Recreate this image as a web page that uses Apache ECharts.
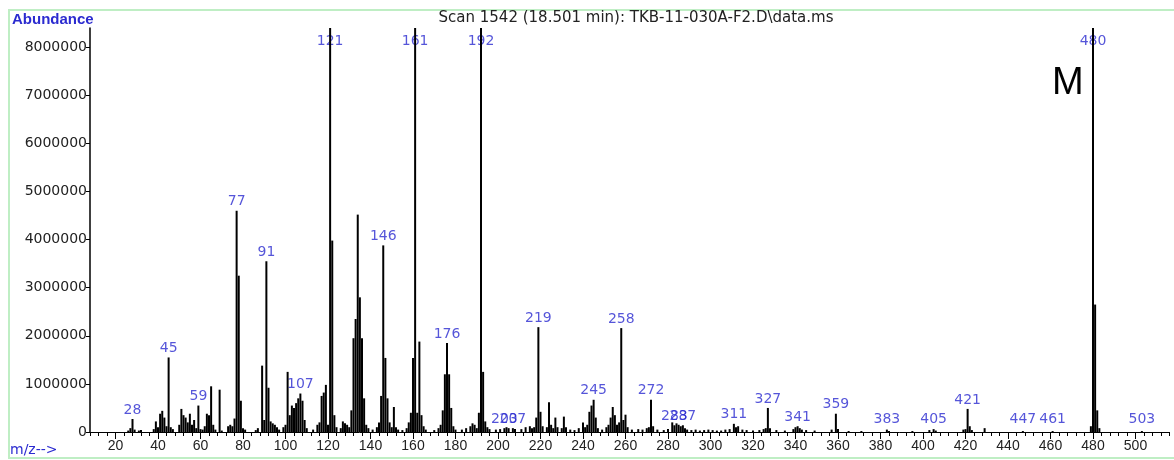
<!DOCTYPE html>
<html>
<head>
<meta charset="utf-8">
<script src="https://cdn.jsdelivr.net/npm/echarts@6/dist/echarts.min.js"></script>
<style>
html,body{margin:0;padding:0;background:#fff;}
#chart{width:1174px;height:460px;}
</style>
</head>
<body>
<div id="chart"></div>
<script>
// m/z values and their abundances (peaks reaching the top of the frame are clipped)
const mz = [26,27,28,29,31,32,38,39,40,41,42,43,44,45,46,47,50,51,52,53,54,55,56,57,58,59,60,61,62,63,64,65,66,67,69,70,
  73,74,75,76,77,78,79,80,81,86,87,89,90,91,92,93,94,95,96,97,99,100,101,102,103,104,105,106,107,108,109,110,113,115,116,117,118,119,120,
  121,122,123,124,126,127,128,129,130,131,132,133,134,135,136,137,138,139,141,143,144,145,146,147,148,149,150,151,152,153,155,157,158,159,160,
  161,162,163,164,165,166,170,172,173,174,175,176,177,178,179,180,183,185,187,188,189,190,191,192,193,194,195,196,199,201,203,204,205,207,208,
  211,213,215,216,217,218,219,220,221,223,224,225,226,227,228,230,231,232,234,236,238,240,241,242,243,244,245,246,247,249,251,252,253,254,255,
  256,257,258,259,260,261,263,266,268,270,271,272,273,275,278,280,282,283,284,285,286,287,288,289,291,293,295,297,299,301,303,305,307,309,
  311,312,313,315,317,320,323,325,326,327,328,331,335,339,340,341,342,343,345,349,357,359,360,365,371,383,384,395,403,405,406,419,420,421,
  422,423,429,447,461,479,480,481,482,483,503];
const abundance = [30000,80000,270000,50000,30000,40000,60000,220000,100000,380000,440000,300000,120000,1550000,100000,60000,150000,480000,350000,300000,200000,380000,150000,250000,80000,550000,60000,50000,120000,380000,350000,950000,150000,50000,880000,30000,
  120000,150000,120000,280000,4600000,3250000,650000,80000,50000,40000,80000,1380000,250000,3550000,920000,220000,180000,150000,100000,50000,100000,150000,1250000,350000,550000,500000,600000,700000,800000,650000,250000,80000,50000,150000,200000,750000,820000,980000,150000,
  9000000,3980000,350000,100000,80000,220000,180000,150000,100000,450000,1950000,2350000,4520000,2800000,1950000,700000,150000,80000,50000,100000,200000,750000,3880000,1540000,700000,200000,100000,520000,100000,50000,40000,80000,200000,400000,1540000,
  9000000,400000,1880000,350000,120000,50000,40000,80000,150000,450000,1200000,1850000,1200000,500000,120000,50000,50000,80000,120000,180000,150000,80000,400000,9000000,1250000,220000,100000,60000,50000,60000,80000,100000,80000,80000,60000,
  60000,100000,120000,80000,100000,300000,2180000,420000,120000,100000,620000,150000,80000,300000,100000,80000,320000,100000,50000,40000,80000,200000,100000,150000,420000,550000,670000,300000,80000,50000,100000,150000,300000,520000,350000,
  150000,200000,2160000,250000,360000,100000,50000,60000,50000,80000,100000,670000,120000,50000,40000,60000,200000,140000,180000,150000,120000,140000,80000,50000,40000,50000,30000,40000,50000,40000,30000,30000,50000,60000,
  170000,100000,120000,50000,40000,30000,40000,60000,80000,500000,80000,40000,30000,60000,100000,120000,80000,50000,40000,30000,50000,380000,60000,20000,20000,50000,20000,20000,40000,60000,30000,50000,60000,480000,
  120000,40000,80000,20000,20000,120000,9000000,2650000,450000,80000,20000];
// peaks that carry an m/z annotation
const labeledMz = [28,45,59,77,91,107,121,146,161,176,192,203,207,219,245,258,272,283,287,311,327,341,359,383,405,421,447,461,480,503];
// axis tick labels
const xTickLabels = [20,40,60,80,100,120,140,160,180,200,220,240,260,280,300,320,340,360,380,400,420,440,460,480,500];
const yTickLabels = [0,1000000,2000000,3000000,4000000,5000000,6000000,7000000,8000000];

const X_MIN = 8, X_MAX = 516, Y_MAX = 8400000;
const minorTicks = [];
for (let v = X_MIN; v <= X_MAX; v += 4) minorTicks.push(v);

const barData = mz.map((m, i) => [m, abundance[i]]);
const LABEL_CAP = 7930000, LABEL_FLOOR = 70000;
const labelData = labeledMz.map(m => {
  const i = mz.indexOf(m);
  const v = i >= 0 ? abundance[i] : 0;
  return { value: [m, Math.max(LABEL_FLOOR, Math.min(v, LABEL_CAP))], name: String(m) };
});

const BLUE = '#2b2bd0';
const chart = echarts.init(document.getElementById('chart'), null, { renderer: 'canvas' });
chart.setOption({
  animation: false,
  backgroundColor: '#ffffff',
  grid: { left: 90, right: 4.5, top: 28, bottom: 28 },
  xAxis: [{
    type: 'value', min: X_MIN, max: X_MAX,
    axisLine: { show: true, onZero: false, lineStyle: { color: '#000', width: 1 } },
    splitLine: { show: false },
    axisTick: { show: true, customValues: minorTicks, length: 4, lineStyle: { color: '#000' } },
    axisLabel: { customValues: xTickLabels, color: '#222', fontFamily: 'Liberation Sans, Arial', fontSize: 14, margin: 7 }
  }, {
    type: 'value', min: X_MIN, max: X_MAX, position: 'bottom',
    axisLine: { show: false },
    splitLine: { show: false },
    axisTick: { show: true, customValues: xTickLabels, length: 7, lineStyle: { color: '#000' } },
    axisLabel: { show: false }
  }],
  yAxis: {
    type: 'value', min: 0, max: Y_MAX,
    axisLine: { show: true, lineStyle: { color: '#000', width: 1.5 } },
    splitLine: { show: false },
    axisTick: { show: true, customValues: yTickLabels, length: 4, lineStyle: { color: '#000' } },
    axisLabel: { customValues: yTickLabels, formatter: v => String(v), color: '#222', fontFamily: 'DejaVu Sans', fontSize: 14, margin: 3 }
  },
  series: [{
    type: 'bar', xAxisIndex: 0, data: barData, barWidth: 2, clip: true, z: 3,
    itemStyle: { color: '#000' }, silent: true
  }, {
    type: 'scatter', xAxisIndex: 0, data: labelData, symbolSize: 0, z: 2, silent: true,
    label: { show: true, position: 'top', distance: 2, formatter: p => p.name,
      color: BLUE, fontFamily: 'DejaVu Sans', fontSize: 14 }
  }],
  graphic: [
    { type: 'rect', shape: { x: 9, y: 10, width: 1180, height: 448 }, style: { fill: 'none', stroke: '#bfeec4', lineWidth: 2 }, z: -1 },
    { type: 'text', x: 12, y: 20, style: { text: 'Abundance', fill: BLUE, font: 'bold 15px "Liberation Sans", Arial', textVerticalAlign: 'middle' } },
    { type: 'text', x: 10, y: 450, style: { text: 'm/z-->', fill: BLUE, font: '14px "DejaVu Sans"', textVerticalAlign: 'middle' } },
    { type: 'text', x: 636, y: 18, style: { text: 'Scan 1542 (18.501 min): TKB-11-030A-F2.D\\data.ms', fill: '#222', font: '15px "DejaVu Sans"', textAlign: 'center', textVerticalAlign: 'middle' } },
    { type: 'text', x: 1052, y: 84, style: { text: 'M', fill: '#000', font: '38px "Liberation Sans", Arial', textVerticalAlign: 'middle' } }
  ]
});
</script>
</body>
</html>
